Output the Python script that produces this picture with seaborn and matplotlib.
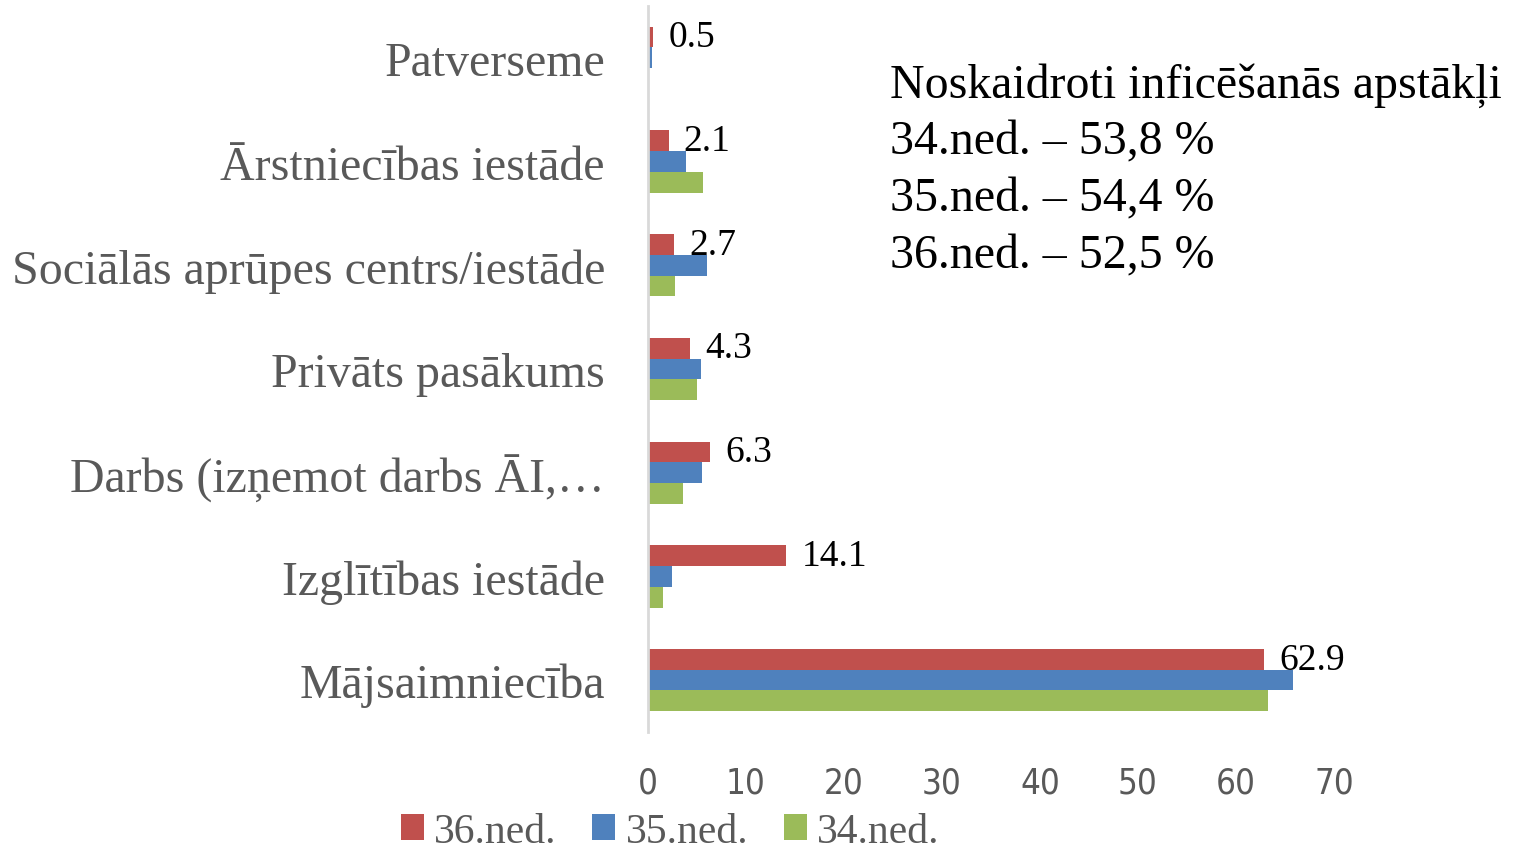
import pandas as pd
import matplotlib.pyplot as plt
import seaborn as sns
from matplotlib.patches import Patch

# =====================
# Data
# =====================
categories = [
    'Patverseme',
    'Ārstniecības iestāde',
    'Sociālās aprūpes centrs/iestāde',
    'Privāts pasākums',
    'Darbs (izņemot darbs ĀI,…',
    'Izglītības iestāde',
    'Mājsaimniecība',
]
weeks = ['36.ned.', '35.ned.', '34.ned.']
ned36 = [0.5, 2.1, 2.7, 4.3, 6.3, 14.1, 62.9]
ned35 = [0.4, 3.9, 6.0, 5.4, 5.5, 2.5, 65.8]
ned34 = [0.0, 5.6, 2.8, 5.0, 3.6, 1.5, 63.3]
colors = ['#C0504D', '#4F81BD', '#9BBB59']
note_lines = [
    'Noskaidroti inficēšanās apstākļi',
    '34.ned. – 53,8 %',
    '35.ned. – 54,4 %',
    '36.ned. – 52,5 %',
]

df = pd.DataFrame({
    'Kategorija': categories * 3,
    'Nedēļa': [w for w in weeks for _ in categories],
    'Vērtība': ned36 + ned35 + ned34,
})

# =====================
# Plot
# =====================
sns.set_style('white')
plt.rcParams['font.family'] = ['Liberation Serif', 'DejaVu Serif']

fig = plt.figure(figsize=(15.2, 8.53), dpi=100)
ax = fig.add_axes([0.4263, 0.1407, 0.4513, 0.8511])

sns.barplot(data=df, y='Kategorija', x='Vērtība', hue='Nedēļa',
            hue_order=weeks, order=categories, palette=colors,
            orient='h', width=0.6, ax=ax, legend=False,
            saturation=1, linewidth=0)

# data labels only on 36.ned.
ax.bar_label(ax.containers[0], fmt='%.1f', padding=11,
             fontsize=27, color='black')

ax.set_xlim(0, 70)
ax.set_ylim(6.5, -0.5)
ax.set_xticks(range(0, 71, 10))
ax.set_xlabel('')
ax.set_ylabel('')
for lbl in ax.get_xticklabels():
    lbl.set_family(['DejaVu Sans'])
    lbl.set_stretch('condensed')
    lbl.set_fontsize(25)
    lbl.set_color('#595959')
for lbl in ax.get_yticklabels():
    lbl.set_fontsize(34.5)
    lbl.set_color('#595959')
ax.tick_params(axis='x', length=0, pad=24)
ax.tick_params(axis='y', length=0, pad=31)

for s in ['top', 'right', 'bottom']:
    ax.spines[s].set_visible(False)
ax.spines['left'].set_color('#D9D9D9')
ax.spines['left'].set_linewidth(2)

# note text
fig.text(0.5855, 0.926, '\n'.join(note_lines), fontsize=34.5,
         color='black', va='top', ha='left', linespacing=1.38)

# legend
handles = [Patch(facecolor=c, edgecolor='none') for c in colors]
fig.legend(handles, weeks, loc='center', bbox_to_anchor=(0.441, 0.024),
           ncol=3, frameon=False, fontsize=30, handlelength=0.55,
           handleheight=0.55, handletextpad=0.25, columnspacing=0.85,
           labelcolor='#595959', borderpad=0.1)

plt.savefig('out.png', dpi=100)
